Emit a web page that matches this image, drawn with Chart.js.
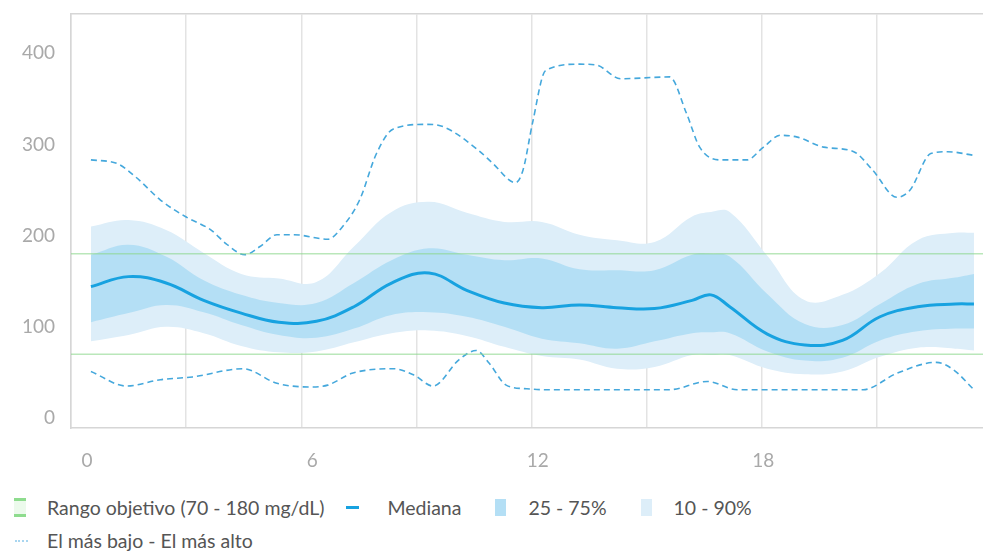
<!DOCTYPE html>
<html>
<head>
<meta charset="utf-8">
<script src="https://cdn.jsdelivr.net/npm/chart.js@4.4.1/dist/chart.umd.min.js"></script>
<style>
  html, body { margin: 0; padding: 0; background: #fff; overflow: hidden; }
  body { width: 983px; height: 551px; position: relative; font-family: Lato, "Noto Sans", sans-serif; }
  #wrap { position: absolute; left: 0; top: 0; width: 1000px; height: 475px; }
  #legend { position: absolute; left: 14px; top: 491px; width: 900px; font-size: 19.5px; color: #555; line-height: 33px; }
  .row { display: flex; align-items: center; height: 33px; }
  .item { display: flex; align-items: center; margin-right: 22px; }
  .icon { height: 33px; position: relative; }
</style>
</head>
<body>
<div id="wrap"><canvas id="agpChart" width="1000" height="475"></canvas></div>
<div id="legend"></div>
<script>
// hours of the day (0 - 24)
const hours = [0, 1, 2, 3, 4, 5, 6, 7, 8, 9, 10, 11, 12, 13, 14, 15, 16, 16.5, 17, 18, 19, 20, 21, 22, 23, 23.5];
const median = [144, 155, 148, 129, 115, 105, 106, 122, 148, 159, 140, 126, 121, 124, 121, 120, 129, 135, 122, 92, 80, 85, 111, 122, 125, 125];
const p75 = [179, 190, 177, 151, 135, 126, 126, 148, 173, 186, 179, 173, 175, 163, 162, 162, 179, 180, 177, 136, 103, 102, 125, 147, 154, 158];
const p25 = [105, 115, 124, 116, 102, 91, 88, 98, 113, 116, 111, 100, 87, 82, 76, 84, 93, 94, 93, 73, 63, 66, 85, 95, 98, 98];
const p90 = [210, 217, 206, 181, 158, 153, 149, 188, 226, 237, 225, 215, 215, 201, 195, 193, 221, 226, 226, 178, 129, 135, 159, 195, 203, 203];
const p10 = [84, 91, 100, 93, 79, 72, 73, 83, 93, 96, 90, 78, 68, 64, 54, 56, 69, 69, 69, 54, 48, 51, 67, 77, 76, 74];

const highHours = [0, 0.7, 1.2, 1.85, 2.55, 3.2, 3.6, 4.1, 4.5, 4.95, 5.4, 6.3, 6.7, 7.15, 7.6, 8.05, 8.95, 9.4, 10.3, 10.7, 11.3, 11.5, 11.75, 12.1, 13.0, 13.45, 14.1, 15.4, 15.85, 16.2, 16.75, 17.45, 17.9, 18.35, 18.8, 19.5, 20.3, 20.8, 21.45, 21.8, 22.35, 22.8, 23.5];
const highest = [283, 279, 264, 239, 220, 206, 191, 179, 188, 201, 201, 196, 210, 239, 290, 317, 322, 319, 294, 279, 258, 272, 323, 381, 388, 387, 372, 374, 334, 297, 283, 283, 297, 310, 308, 297, 292, 272, 242, 250, 290, 292, 288];

const lowHours = [0, 0.95, 1.85, 2.7, 4.05, 4.95, 5.85, 6.3, 6.95, 8.05, 8.6, 9.1, 9.8, 10.25, 10.6, 11.05, 11.6, 12.1, 13.0, 14.0, 15.4, 16.4, 17.2, 18.0, 19.0, 20.0, 20.55, 21.45, 22.5, 22.95, 23.5];
const lowest = [51, 35, 42, 45, 54, 38, 34, 36, 49, 54, 47, 35, 64, 74, 60, 36, 32, 31, 31, 31, 31, 40, 31, 31, 31, 31, 31, 49, 61, 53, 31];

const targetRange = [70, 180];
const xTicks = [0, 6, 12, 18, 24];
const xTickLabels = ['0', '6', '12', '18', '0'];
const yTicks = [0, 100, 200, 300, 400];

const X_MIN = -0.53, X_MAX = 23.98;
const Y_MIN = -11, Y_MAX = 443;

const COLORS = {
    median: '#17a2e0',
    iqr: '#b4dff5',
    outer: '#ddeef9',
    extremes: '#45a8dc',
    target: 'rgba(140, 215, 140, 0.6)',
    grid: '#e3e3e3',
    border: '#d6d6d6',
    tick: '#a9a9a9'
};

const pts = (xs, ys) => xs.map((x, i) => ({ x: x, y: ys[i] }));
const flat = v => [{ x: X_MIN, y: v }, { x: X_MAX, y: v }];
// keep the plot area where it is in the picture, labels may hang over
const noEdgePadding = s => { s.paddingLeft = 0; s.paddingRight = 0; s.paddingTop = 0; s.paddingBottom = 0; };

Chart.defaults.font.family = 'Lato, "Noto Sans", sans-serif';

const ctx = document.getElementById('agpChart');
const chart = new Chart(ctx, {
    type: 'line',
    data: {
        datasets: [
            { label: 'Rango objetivo (70 - 180 mg/dL)', data: flat(targetRange[1]), borderColor: COLORS.target, borderWidth: 1.5, pointRadius: 0, fill: false, order: 0 },
            { label: 'target-low', data: flat(targetRange[0]), borderColor: COLORS.target, borderWidth: 1.5, pointRadius: 0, fill: false, order: 0 },
            { label: 'Mediana', data: pts(hours, median), borderColor: COLORS.median, borderWidth: 3, pointRadius: 0, tension: 0.4, fill: false, order: 1 },
            { label: 'El más bajo - El más alto', data: pts(highHours, highest), borderColor: COLORS.extremes, borderWidth: 1.6, borderDash: [6, 4], pointRadius: 0, cubicInterpolationMode: 'monotone', fill: false, order: 2 },
            { label: 'lowest', data: pts(lowHours, lowest), borderColor: COLORS.extremes, borderWidth: 1.6, borderDash: [6, 4], pointRadius: 0, cubicInterpolationMode: 'monotone', fill: false, order: 2 },
            { label: '25 - 75%', data: pts(hours, p75), borderWidth: 0, pointRadius: 0, tension: 0.4, fill: { target: '+1' }, backgroundColor: COLORS.iqr, order: 3 },
            { label: 'p25', data: pts(hours, p25), borderWidth: 0, pointRadius: 0, tension: 0.4, fill: false, order: 3 },
            { label: '10 - 90%', data: pts(hours, p90), borderWidth: 0, pointRadius: 0, tension: 0.4, fill: { target: '+1' }, backgroundColor: COLORS.outer, order: 4 },
            { label: 'p10', data: pts(hours, p10), borderWidth: 0, pointRadius: 0, tension: 0.4, fill: false, order: 4 }
        ]
    },
    options: {
        responsive: false,
        animation: false,
        layout: { padding: { top: 14, right: 8, left: 0, bottom: 0 } },
        plugins: {
            legend: { display: false },
            tooltip: { enabled: false }
        },
        scales: {
            x: {
                type: 'linear',
                position: 'bottom',
                min: X_MIN,
                max: X_MAX,
                afterBuildTicks: s => { s.ticks = xTicks.map(v => ({ value: v })); },
                afterFit: s => { s.height = 47; noEdgePadding(s); },
                ticks: {
                    padding: 21,
                    labelOffset: -4,
                    color: COLORS.tick,
                    font: { size: 19 },
                    maxRotation: 0,
                    callback: (v, i) => xTickLabels[i]
                },
                grid: { display: false, drawTicks: false },
                border: { display: true, color: COLORS.border, width: 1.5 }
            },
            x2: {
                type: 'linear',
                position: 'top',
                min: 0,
                max: 8,
                afterFit: noEdgePadding,
                ticks: { display: false, stepSize: 1 },
                grid: { color: COLORS.grid, lineWidth: 1.5, drawTicks: false },
                border: { display: true, color: COLORS.border, width: 1.5 }
            },
            y: {
                min: Y_MIN,
                max: Y_MAX,
                afterBuildTicks: s => { s.ticks = yTicks.map(v => ({ value: v })); },
                afterFit: s => { s.width = 71; noEdgePadding(s); },
                ticks: { padding: 16, color: COLORS.tick, font: { size: 19 } },
                grid: { display: false, drawTicks: false },
                border: { display: true, color: COLORS.border, width: 1.5 }
            }
        }
    }
});

// legend built from the chart's datasets
function iconHtml(kind) {
    if (kind === 'target') {
        return '<div class="icon" style="width:12px;margin-right:21px">' +
            '<div style="position:absolute;left:0;top:8px;width:12px;height:16px;background:rgba(200,240,200,0.35)"></div>' +
            '<div style="position:absolute;left:0;top:7px;width:12px;height:3px;background:#8edc8e"></div>' +
            '<div style="position:absolute;left:0;top:23px;width:12px;height:3px;background:#8edc8e"></div></div>';
    }
    if (kind === 'median') {
        return '<div class="icon" style="width:15px;margin-right:26px"><div style="position:absolute;left:0;top:15px;width:13px;height:3px;background:' + COLORS.median + '"></div></div>';
    }
    if (kind === 'iqr' || kind === 'outer') {
        return '<div class="icon" style="width:11px;margin-left:12px;margin-right:22px"><div style="position:absolute;left:0;top:8px;width:11px;height:17px;background:' + COLORS[kind] + '"></div></div>';
    }
    return '<div class="icon" style="width:14px;margin-right:19px"><div style="position:absolute;left:1px;top:16px;width:13px;height:0;border-top:2px dotted #a9d6f0"></div></div>';
}

const legendRows = [
    [['Rango objetivo (70 - 180 mg/dL)', 'target'], ['Mediana', 'median'], ['25 - 75%', 'iqr'], ['10 - 90%', 'outer']],
    [['El más bajo - El más alto', 'extremes']]
];
const labelsInChart = chart.data.datasets.map(d => d.label);
document.getElementById('legend').innerHTML = legendRows.map(row =>
    '<div class="row">' + row.filter(it => labelsInChart.includes(it[0])).map(it =>
        '<div class="item">' + iconHtml(it[1]) + '<span>' + it[0] + '</span></div>').join('') + '</div>'
).join('');
</script>
</body>
</html>
